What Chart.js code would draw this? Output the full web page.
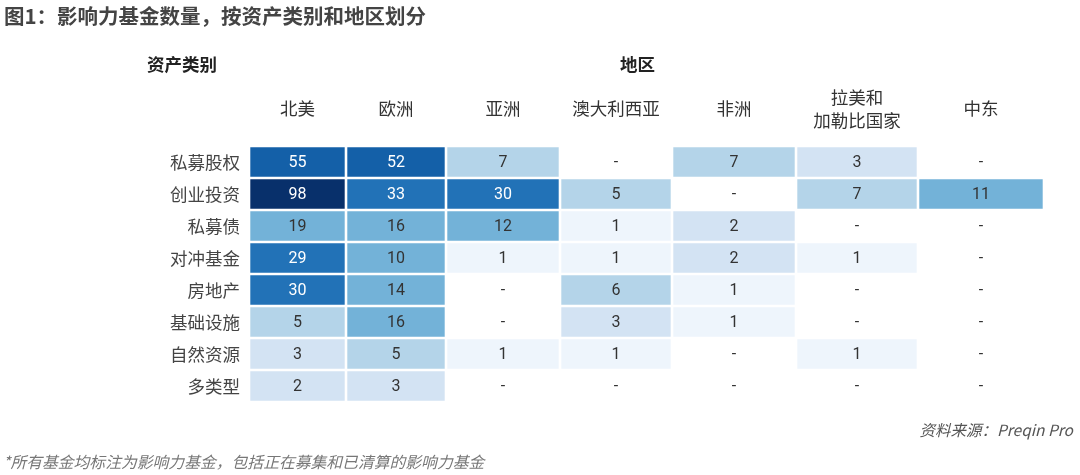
<!DOCTYPE html>
<html>
<head>
    <meta charset="utf-8">
    <title>影响力基金数量</title>
    <script src="https://cdn.jsdelivr.net/npm/chart.js@4.4.0/dist/chart.umd.min.js"></script>
    <style>
        body {
            margin: 0;
            background: #fff;
            font-family: "Noto Sans CJK SC", "Noto Sans", sans-serif;
        }
        .wrap {
            position: relative;
            width: 1080px;
            height: 475px;
        }
        .txt {
            position: absolute;
            white-space: nowrap;
        }
        #title { left: 4px; top: 0px; font-size: 20.5px; font-weight: 600; color: #444; }
        #rowHead { left: 147px; top: 51px; font-size: 17.5px; font-weight: bold; color: #222; }
        #colHead { left: 620px; top: 51px; font-size: 17.5px; font-weight: bold; color: #222; }
        #source { right: 7px; top: 418px; font-size: 15.5px; font-style: italic; color: #555; }
        #note { left: 3px; top: 450px; font-size: 15.8px; font-style: italic; color: #777; }
    </style>
</head>
<body>
<div class="wrap">
    <canvas id="heat" width="1080" height="475"></canvas>
    <div class="txt" id="title">图1：影响力基金数量，按资产类别和地区划分</div>
    <div class="txt" id="rowHead">资产类别</div>
    <div class="txt" id="colHead">地区</div>
    <div class="txt" id="source">资料来源：Preqin Pro</div>
    <div class="txt" id="note">*所有基金均标注为影响力基金，包括正在募集和已清算的影响力基金</div>
</div>
<script>
    // asset classes (rows)
    const assetClasses = ['私募股权', '创业投资', '私募债', '对冲基金', '房地产', '基础设施', '自然资源', '多类型'];
    // regions (columns)
    const regions = ['北美', '欧洲', '亚洲', '澳大利西亚', '非洲', ['拉美和', '加勒比国家'], '中东'];

    // fund counts per region, null = "-"
    const northAmerica = [55, 98, 19, 29, 30, 5, 3, 2];
    const europe = [52, 33, 16, 10, 14, 16, 5, 3];
    const asia = [7, 30, 12, 1, null, null, 1, null];
    const australasia = [null, 5, 1, 1, 6, 3, 1, null];
    const africa = [7, null, 2, 2, 1, 1, null, null];
    const latinAmerica = [3, 7, null, 1, null, null, 1, null];
    const middleEast = [null, 11, null, null, null, null, null, null];

    const regionValues = [northAmerica, europe, asia, australasia, africa, latinAmerica, middleEast];

    // layout: column edges along the x scale (columns are not all the same width)
    const colEdges = [0, 97, 197, 311, 423, 547, 669, 795];
    const gap = 1.3;

    function cellColor(v) {
        if (v >= 90) return '#08306b';
        if (v >= 50) return '#1460a8';
        if (v >= 25) return '#2272b7';
        if (v >= 10) return '#73b2d8';
        if (v >= 4) return '#b4d4e9';
        if (v >= 2) return '#d3e3f3';
        return '#eef5fc';
    }

    const datasets = regionValues.map(function (vals, c) {
        return {
            label: Array.isArray(regions[c]) ? regions[c].join('') : regions[c],
            data: vals.map(v => v == null ? null : [colEdges[c] + gap, colEdges[c + 1] - gap]),
            values: vals,
            backgroundColor: vals.map(v => v == null ? 'rgba(0,0,0,0)' : cellColor(v)),
            borderWidth: 0,
            borderSkipped: false,
            grouped: false,
            barPercentage: 0.92,
            categoryPercentage: 1
        };
    });

    // write the number (or "-") in every cell
    const cellText = {
        id: 'cellText',
        afterDatasetsDraw(chart) {
            const ctx = chart.ctx;
            const x = chart.scales.x;
            const y = chart.scales.y;
            ctx.save();
            ctx.font = '16px Roboto, "DejaVu Sans", sans-serif';
            ctx.textAlign = 'center';
            ctx.textBaseline = 'middle';
            chart.data.datasets.forEach(function (ds, c) {
                const cx = x.getPixelForValue((colEdges[c] + colEdges[c + 1]) / 2);
                ds.values.forEach(function (v, r) {
                    const cy = y.getPixelForValue(r) + 1;
                    if (v == null) {
                        ctx.fillStyle = '#333';
                        ctx.fillText('-', cx, cy);
                    } else {
                        ctx.fillStyle = v >= 25 ? '#ffffff' : '#333333';
                        ctx.fillText(String(v), cx, cy);
                    }
                });
            });
            ctx.restore();
        }
    };

    new Chart('heat', {
        type: 'bar',
        data: {
            labels: assetClasses,
            datasets: datasets
        },
        options: {
            indexAxis: 'y',
            responsive: false,
            animation: false,
            layout: {
                padding: { left: 0, right: 36, top: 80, bottom: 73 }
            },
            plugins: {
                legend: { display: false },
                tooltip: { enabled: false }
            },
            scales: {
                x: {
                    type: 'linear',
                    position: 'top',
                    min: 0,
                    max: colEdges[colEdges.length - 1],
                    grid: { display: false },
                    border: { display: false },
                    afterBuildTicks(scale) {
                        scale.ticks = regions.map((r, c) => ({ value: (colEdges[c] + colEdges[c + 1]) / 2 }));
                    },
                    ticks: {
                        autoSkip: false,
                        maxRotation: 0,
                        crossAlign: 'center',
                        padding: 18,
                        color: '#333',
                        font: { size: 17.5, family: '"Noto Sans CJK SC", sans-serif', lineHeight: 1.32 },
                        callback: (val, i) => regions[i]
                    },
                    afterFit(scale) {
                        scale.height = 66;
                    }
                },
                y: {
                    type: 'category',
                    grid: { display: false },
                    border: { display: false },
                    ticks: {
                        padding: 1,
                        color: '#444',
                        font: { size: 17.5, family: '"Noto Sans CJK SC", sans-serif' }
                    },
                    afterFit(scale) {
                        scale.width = 249;
                    }
                }
            }
        },
        plugins: [cellText]
    });
</script>
</body>
</html>
